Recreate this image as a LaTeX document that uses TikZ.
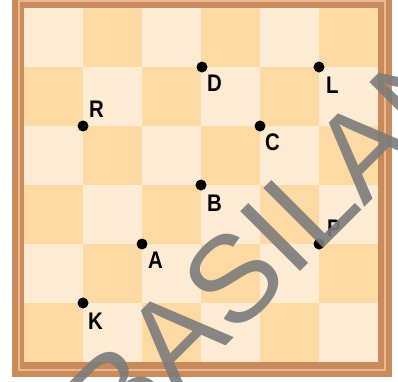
\documentclass[tikz,border=0pt]{standalone}
\usepackage{fontspec}
\setmainfont{Liberation Sans}
\newfontfamily\labfont[FakeStretch=0.85]{Liberation Sans Bold}
\newfontfamily\wmfont{Liberation Sans}
\definecolor{sqlight}{HTML}{FEEBD3}
\definecolor{sqdark}{HTML}{FDD9A4}
\definecolor{frame}{HTML}{C98A5C}
\definecolor{frameline}{HTML}{E8B98E}
\definecolor{wm}{HTML}{7C7C7C}
\tikzset{
  pt/.style={circle, fill=black, inner sep=0pt, minimum size=11pt},
  lab/.style={font=\labfont\fontsize{24}{24}\selectfont, inner sep=0pt, text=black},
}
\begin{document}
\begin{tikzpicture}[x=1pt, y=-1pt]
\useasboundingbox (0,0) rectangle (398,381);
\fill[white] (0,0) rectangle (398,381);
\begin{scope}
\clip (0,0) rectangle (398,381);
% frame
\fill[frame] (12,-6) rectangle (392,377);
\draw[frameline, line width=2pt] (19,1) rectangle (385,370);
% board
\foreach \i in {0,...,5}{
  \foreach \j in {0,...,5}{
    \pgfmathtruncatemacro{\sqpar}{mod(\i+\j,2)}
    \ifnum\sqpar=0
      \fill[sqlight] (24+59*\i,8+59*\j) rectangle ++(59,59);
    \else
      \fill[sqdark] (24+59*\i,8+59*\j) rectangle ++(59,59);
    \fi
  }
}
% points
\node[pt] (D) at (202,67) {};
\node[pt] (L) at (319,67) {};
\node[pt] (R) at (83,126) {};
\node[pt] (C) at (260,126) {};
\node[pt] (B) at (201,185) {};
\node[pt] (A) at (142,244) {};
\node[pt] (P) at (319,244) {};
\node[pt] (K) at (83,303) {};
\node[lab, anchor=north west] (tD) at (207,75) {D};
\node[lab, anchor=north west] (tL) at (326,77) {L};
\node[lab, anchor=south west] (tR) at (89,118) {R};
\node[lab, anchor=north west] (tC) at (265,134) {C};
\node[lab, anchor=north west] (tB) at (207,195) {B};
\node[lab, anchor=north west] (tA) at (148,252) {A};
\node[lab, anchor=south west] (tP) at (327,237) {P};
\node[lab, anchor=north west] (tK) at (88,313) {K};
% watermark
\node[rotate=45, anchor=base west, inner sep=0pt, text=wm, text opacity=0.9,
  font=\wmfont\fontsize{123}{123}\selectfont] (wm) at (118,454) {BASILAN};
\end{scope}
\end{tikzpicture}
\end{document}
